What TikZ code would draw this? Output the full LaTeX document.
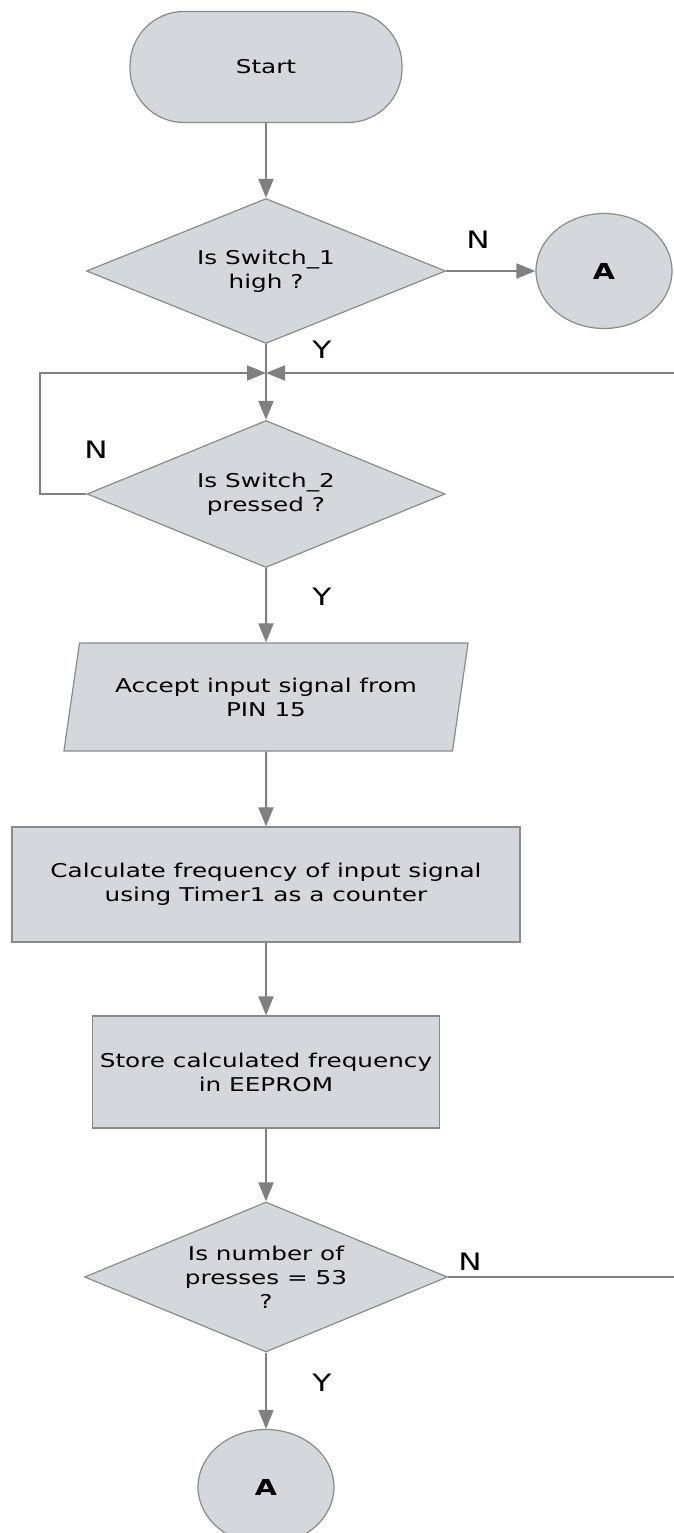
\documentclass[tikz,border=0pt]{standalone}
\usepackage{fontspec}
\usetikzlibrary{shapes.geometric,arrows.meta}
\newfontfamily\diafont[FakeStretch=1.3]{DejaVu Sans}
\newfontfamily\diafontbold[FakeStretch=1.3]{DejaVu Sans Bold}
\newcommand\bodyfnt{\diafont\fontsize{19}{24}\selectfont}
\newcommand\lblfnt{\diafont\fontsize{24}{28}\selectfont}
\newcommand\conffnt{\diafontbold\fontsize{22}{26}\selectfont}
\definecolor{boxfill}{RGB}{212,216,221}
\definecolor{bordergray}{RGB}{138,138,138}
\definecolor{linegray}{RGB}{128,128,128}
\begin{document}
\begin{tikzpicture}[x=1pt,y=-1pt,
  shp/.style={draw=bordergray, fill=boxfill, line width=1.2pt, text=black,
    font=\bodyfnt, align=center, inner sep=0pt},
  term/.style={shp, rectangle, rounded corners=54pt, minimum width=272pt, minimum height=111pt},
  decis/.style={shp, diamond, aspect=2.48},
  procbox/.style={shp, rectangle},
  iobox/.style={shp, trapezium, trapezium left angle=72, trapezium right angle=108,
    trapezium stretches=true},
  conn/.style={shp, ellipse, font=\conffnt, minimum width=136pt, minimum height=115pt},
  arr/.style={draw=linegray, line width=2pt, -{Triangle[length=19pt,width=15pt]}},
  lbl/.style={font=\lblfnt, text=black, inner sep=0pt}]
\useasboundingbox (0,0) rectangle (674,1533);
\clip (0,0) rectangle (674,1533);

\node[term] (start) at (266,67) {Start};
\node[decis, minimum width=359pt, minimum height=145pt] (d1) at (266,271) {Is Switch\_1\\high ?};
\node[conn] (atop) at (604,271) {A};
\node[decis, minimum width=358pt, minimum height=147pt] (d2) at (266,494) {Is Switch\_2\\pressed ?};
\node[iobox, minimum width=405pt, minimum height=108pt] (par) at (266,697) {Accept input signal from\\PIN 15};
\node[procbox, minimum width=508pt, minimum height=115pt] (r1) at (266,884.5) {Calculate frequency of input signal\\using Timer1 as a counter};
\node[procbox, minimum width=347pt, minimum height=112pt] (r2) at (266,1072) {Store calculated frequency\\in EEPROM};
\node[decis, minimum width=363pt, minimum height=150pt] (d3) at (266,1277) {Is number of\\presses = 53\\?};
\node[conn] (abot) at (266,1487) {A};

\coordinate (J) at (266,373);
\coordinate (LL) at (40,373);
\coordinate (LB) at (40,494);
\coordinate (RB) at (682,1277);
\coordinate (RT) at (682,373);

\draw[arr] (start.south) -- (d1.north);
\draw[arr] (d1.east) -- (atop.west);
\draw[arr] (d1.south) -- (d2.north);
\draw[arr] (d2.west) -- (LB) -- (LL) -- (J);
\draw[arr] (d3.east) -- (RB) -- (RT) -- (J);
\draw[arr] (d2.south) -- (par.north);
\draw[arr] (par.south) -- (r1.north);
\draw[arr] (r1.south) -- (r2.north);
\draw[arr] (r2.south) -- (d3.north);
\draw[arr] (d3.south) -- (abot.north);

\node[lbl] (n1) at (478,240) {N};
\node[lbl] (y1) at (322,350) {Y};
\node[lbl] (n2) at (96,450) {N};
\node[lbl] (y2) at (322,597) {Y};
\node[lbl] (n3) at (470,1262) {N};
\node[lbl] (y3) at (322,1383) {Y};
\end{tikzpicture}
\end{document}
